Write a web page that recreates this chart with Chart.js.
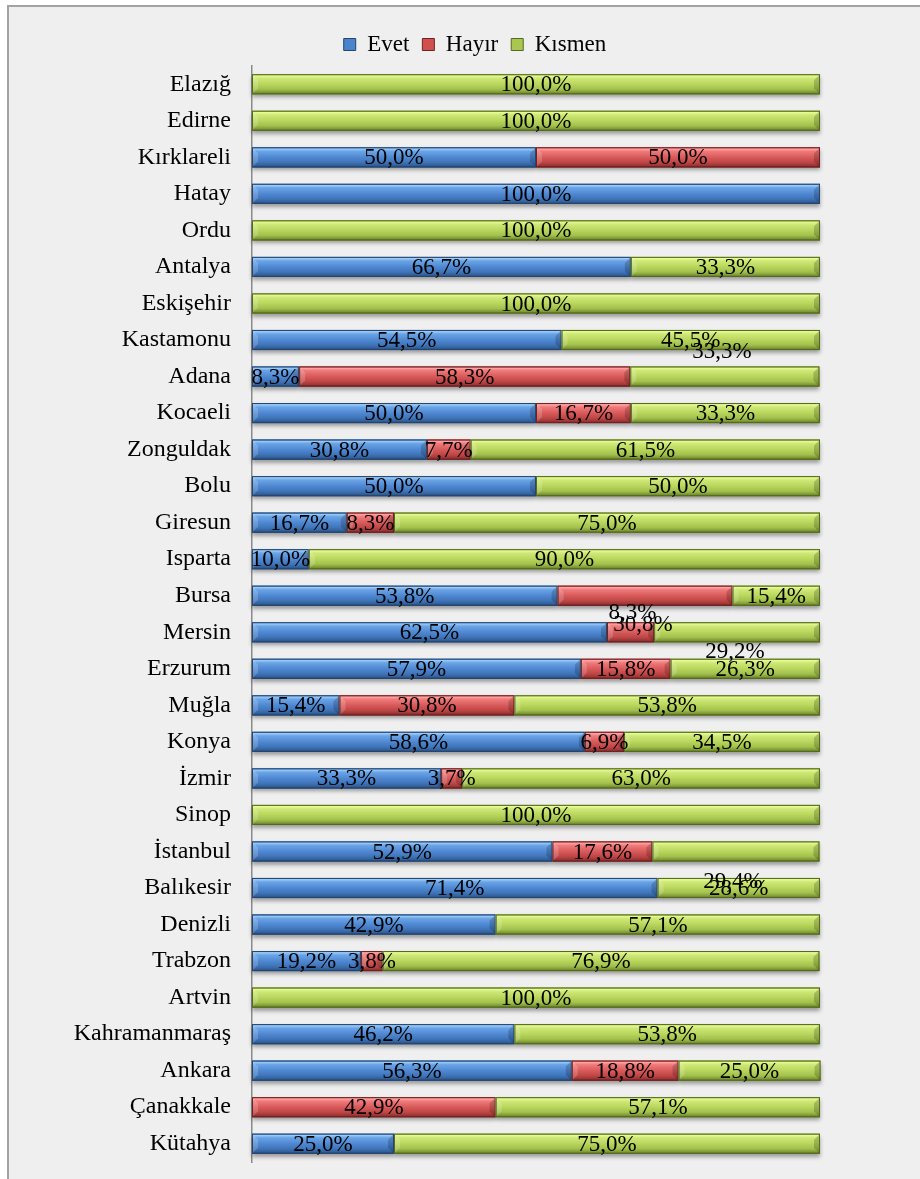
<!DOCTYPE html>
<html>
<head>
<meta charset="utf-8">
<title>Evet / Hayır / Kısmen</title>
<script src="https://cdn.jsdelivr.net/npm/chart.js@4.4.1/dist/chart.umd.min.js"></script>
<style>
    html, body { margin: 0; padding: 0; background: #fff; }
    #frame {
        position: absolute; left: 7px; top: 5px; width: 913px; height: 1174px;
        border-top: 2px solid #a3a3a3; border-left: 2px solid #a3a3a3;
        background: #efefef;
    }
    #chart { position: absolute; left: 0; top: 0; }
</style>
</head>
<body>
<div id="frame"></div>
<canvas id="chart" width="920" height="1179"></canvas>
<script>
var categories = ['Elazığ', 'Edirne', 'Kırklareli', 'Hatay', 'Ordu', 'Antalya', 'Eskişehir', 'Kastamonu',
    'Adana', 'Kocaeli', 'Zonguldak', 'Bolu', 'Giresun', 'Isparta', 'Bursa', 'Mersin', 'Erzurum', 'Muğla',
    'Konya', 'İzmir', 'Sinop', 'İstanbul', 'Balıkesir', 'Denizli', 'Trabzon', 'Artvin', 'Kahramanmaraş',
    'Ankara', 'Çanakkale', 'Kütahya'];

var seriesNames = ['Evet', 'Hayır', 'Kısmen'];

var evet = [null, null, 50.0, 100.0, null, 66.7, null, 54.5, 8.3, 50.0, 30.8, 50.0, 16.7, 10.0, 53.8,
    62.5, 57.9, 15.4, 58.6, 33.3, null, 52.9, 71.4, 42.9, 19.2, null, 46.2, 56.3, null, 25.0];

var hayir = [null, null, 50.0, null, null, null, null, null, 58.3, 16.7, 7.7, null, 8.3, null, 30.8,
    8.3, 15.8, 30.8, 6.9, 3.7, null, 17.6, null, null, 3.8, null, null, 18.8, 42.9, null];

var kismen = [100.0, 100.0, null, null, 100.0, 33.3, 100.0, 45.5, 33.3, 33.3, 61.5, 50.0, 75.0, 90.0, 15.4,
    29.2, 26.3, 53.8, 34.5, 63.0, 100.0, 29.4, 28.6, 57.1, 76.9, 100.0, 53.8, 25.0, 57.1, 75.0];

// labels that were dragged off their bar in the original (row, series, shift in px)
var movedLabels = [
    { row: 8, set: 2, dx: -3, dy: -26 },
    { row: 14, set: 1, dx: -2, dy: 28 },
    { row: 15, set: 1, dx: 2, dy: -20 },
    { row: 15, set: 2, dx: -2, dy: 19 },
    { row: 21, set: 2, dx: -3, dy: 29 }
];

var solidColors = ['#4a84cc', '#d05050', '#a8c650'];
var edgeColors = ['#24466f', '#6e2222', '#55691f'];
var gradientStops = [
    [[0, '#4f8ad0'], [0.08, '#9ccbf7'], [0.2, '#6aa4e6'], [0.5, '#4f88d2'], [0.75, '#3f74b8'], [0.9, '#325f99'], [1, '#21426e']],
    [[0, '#d05050'], [0.08, '#ffa6a6'], [0.2, '#f07a7a'], [0.5, '#d85a5a'], [0.75, '#bf4646'], [0.9, '#9c3636'], [1, '#6e2020']],
    [[0, '#9cb845'], [0.08, '#e6fc95'], [0.2, '#cfe877'], [0.5, '#b8d65c'], [0.75, '#a2c04c'], [0.9, '#7e9a36'], [1, '#55691f']]
];

var serif = '"Liberation Serif", "Times New Roman", serif';

function formatPct(v) {
    return v.toFixed(1).replace('.', ',') + '%';
}

function barRect(el) {
    var p = el.getProps(['x', 'y', 'base', 'height'], true);
    return {
        left: Math.min(p.x, p.base),
        right: Math.max(p.x, p.base),
        top: p.y - p.height / 2,
        bottom: p.y + p.height / 2,
        cy: p.y
    };
}

function findShift(row, set) {
    for (var i = 0; i < movedLabels.length; i++) {
        if (movedLabels[i].row === row && movedLabels[i].set === set) {
            return movedLabels[i];
        }
    }
    return null;
}

// the legend in the original sits a bit right of the page centre
var legendNudge = {
    id: 'legendNudge',
    afterLayout: function (chart) {
        chart.legend.left += 65;
        chart.legend.right += 65;
    }
};

// repaints the flat bars with the bevelled office look, then writes the labels
var bevelBars = {
    id: 'bevelBars',
    afterDatasetsDraw: function (chart) {
        var ctx = chart.ctx;
        var metas = chart.getSortedVisibleDatasetMetas();

        ctx.save();
        // soft drop shadow first, so it sits under every segment of the row
        metas.forEach(function (meta) {
            meta.data.forEach(function (el, i) {
                if (chart.data.datasets[meta.index].data[i] == null) { return; }
                var r = barRect(el);
                ctx.save();
                ctx.shadowColor = 'rgba(0,0,0,0.35)';
                ctx.shadowBlur = 4;
                ctx.shadowOffsetY = 3;
                ctx.fillStyle = solidColors[meta.index];
                ctx.fillRect(r.left, r.top, r.right - r.left, r.bottom - r.top);
                ctx.restore();
            });
        });

        metas.forEach(function (meta) {
            meta.data.forEach(function (el, i) {
                if (chart.data.datasets[meta.index].data[i] == null) { return; }
                var r = barRect(el);
                var w = r.right - r.left;
                var h = r.bottom - r.top;
                var g = ctx.createLinearGradient(0, r.top, 0, r.bottom);
                gradientStops[meta.index].forEach(function (s) {
                    g.addColorStop(s[0], s[1]);
                });
                ctx.fillStyle = g;
                ctx.fillRect(r.left, r.top, w, h);

                var b = Math.min(6, w / 2);
                // left bevel face, a little lighter
                ctx.fillStyle = 'rgba(255,255,255,0.18)';
                ctx.beginPath();
                ctx.moveTo(r.left, r.top);
                ctx.lineTo(r.left + b, r.top + b);
                ctx.lineTo(r.left + b, r.bottom - b);
                ctx.lineTo(r.left, r.bottom);
                ctx.closePath();
                ctx.fill();
                // right bevel face, darker
                ctx.fillStyle = 'rgba(0,0,0,0.18)';
                ctx.beginPath();
                ctx.moveTo(r.right, r.top);
                ctx.lineTo(r.right - b, r.top + b);
                ctx.lineTo(r.right - b, r.bottom - b);
                ctx.lineTo(r.right, r.bottom);
                ctx.closePath();
                ctx.fill();

                ctx.strokeStyle = edgeColors[meta.index];
                ctx.lineWidth = 1;
                ctx.strokeRect(r.left + 0.5, r.top + 0.5, w - 1, h - 1);
            });
        });

        // data labels
        ctx.font = '23px ' + serif;
        ctx.fillStyle = '#000';
        ctx.textAlign = 'center';
        ctx.textBaseline = 'middle';
        metas.forEach(function (meta) {
            meta.data.forEach(function (el, i) {
                var v = chart.data.datasets[meta.index].data[i];
                if (v == null) { return; }
                var r = barRect(el);
                var x = (r.left + r.right) / 2;
                var y = r.cy + 1;
                var s = findShift(i, meta.index);
                if (s) {
                    x += s.dx;
                    y += s.dy;
                }
                ctx.fillText(formatPct(v), x, y);
            });
        });
        ctx.restore();
    }
};

var seriesData = [evet, hayir, kismen];
var datasets = seriesNames.map(function (name, i) {
    return {
        label: name,
        data: seriesData[i],
        backgroundColor: solidColors[i],
        borderColor: edgeColors[i],
        borderWidth: 1,
        barPercentage: 0.55,
        categoryPercentage: 1.0
    };
});

var chart = new Chart(document.getElementById('chart'), {
    type: 'bar',
    data: {
        labels: categories,
        datasets: datasets
    },
    options: {
        indexAxis: 'y',
        responsive: false,
        animation: false,
        devicePixelRatio: 1,
        events: [],
        layout: {
            padding: { left: 0, right: 100, top: 20, bottom: 17 }
        },
        plugins: {
            legend: {
                display: true,
                position: 'top',
                labels: {
                    boxWidth: 12,
                    boxHeight: 12,
                    padding: 13,
                    color: '#000',
                    font: { family: serif, size: 23 }
                }
            },
            tooltip: { enabled: false }
        },
        scales: {
            x: {
                stacked: true,
                min: 0,
                max: 100,
                display: false
            },
            y: {
                stacked: true,
                grid: { display: false, drawTicks: false },
                border: { display: true, color: '#8a8a8a', width: 1.5 },
                ticks: {
                    color: '#000',
                    padding: 21,
                    autoSkip: false,
                    font: { family: serif, size: 24 }
                },
                afterFit: function (scale) {
                    scale.width = 252;
                    scale.paddingTop = 0;
                    scale.paddingBottom = 0;
                }
            }
        }
    },
    plugins: [legendNudge, bevelBars]
});
</script>
</body>
</html>
